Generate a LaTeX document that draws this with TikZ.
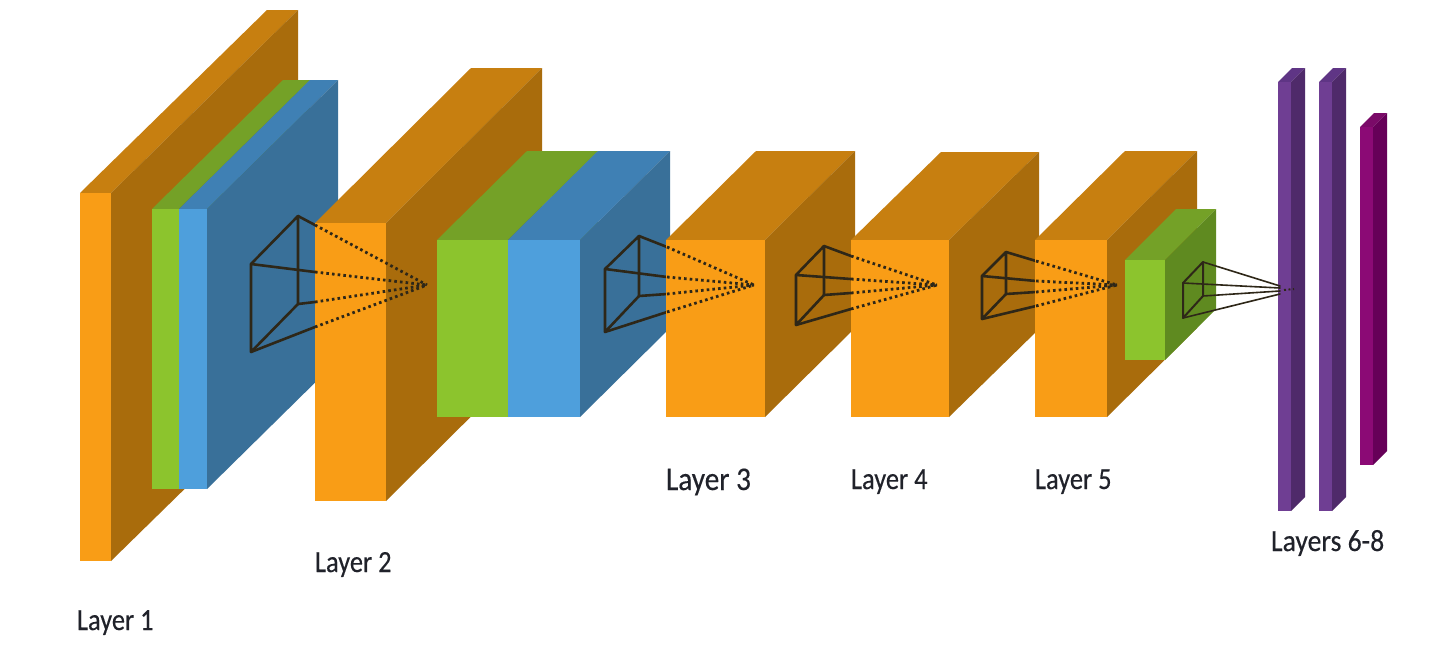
\documentclass[tikz,border=0pt]{standalone}
\usepackage{fontspec}
\setmainfont{Carlito}
\newfontfamily\labelfont[FakeBold=0.35]{Carlito}
\definecolor{orF}{HTML}{F99D16}\definecolor{orT}{HTML}{C77F10}\definecolor{orS}{HTML}{A96C0C}
\definecolor{grF}{HTML}{8CC42D}\definecolor{grT}{HTML}{74A127}\definecolor{grS}{HTML}{5F8A20}
\definecolor{blF}{HTML}{4E9FDC}\definecolor{blT}{HTML}{3F80B4}\definecolor{blS}{HTML}{397099}
\definecolor{puF}{HTML}{6F3E93}\definecolor{puT}{HTML}{5F3585}\definecolor{puS}{HTML}{4F2A6A}
\definecolor{maF}{HTML}{8B0A75}\definecolor{maT}{HTML}{7A0A68}\definecolor{maS}{HTML}{660058}
\definecolor{frustc}{HTML}{2E2718}
\definecolor{labelc}{HTML}{20222A}
\tikzset{
  solidline/.style={draw=frustc,line width=2.6pt,line join=round,line cap=round},
  thinline/.style={draw=frustc,line width=2pt,line join=round,line cap=round},
  dotline/.style={draw=frustc,line width=2.8pt,dash pattern=on 2.6pt off 3.1pt},
  layerlabel/.style={anchor=base west,inner sep=0pt,outer sep=0pt,text=labelc,font=\labelfont\fontsize{29}{29}\selectfont},
}
% x0 x1 y0 y1 dx dy colourprefix
\newcommand{\cuboid}[7]{%
  \fill[#7T] (#1,#3) -- (#2,#3) -- ({#2+#5},{#3-#6}) -- ({#1+#5},{#3-#6}) -- cycle;
  \fill[#7S] (#2,#3) -- ({#2+#5},{#3-#6}) -- ({#2+#5},{#4-#6}) -- (#2,#4) -- cycle;
  \fill[#7F] (#1,#3) rectangle (#2,#4);
}
\newcommand{\frustbox}[8]{%
  \coordinate (fa) at #1; \coordinate (fb) at #2; \coordinate (fc) at #3; \coordinate (fd) at #4;
  \coordinate (pb) at #5; \coordinate (pa) at #6; \coordinate (pc) at #7; \coordinate (pd) at #8;
}
\newcommand{\frustlines}[1]{%
  \draw[#1] (fa) -- (fb) -- (fc) -- (fd) -- cycle;
  \draw[#1] (fb) -- (pb);
  \draw[#1] (fa) -- (pa);
  \draw[#1] (fc) -- (pc);
  \draw[#1] (fd) -- (pd);
}
\newcommand{\frustdots}[1]{%
  \coordinate (apex) at #1;
  \foreach \p in {pb,pa,pc,pd} \draw[dotline] (\p) -- (apex);
}
\begin{document}
\begin{tikzpicture}[x=1pt,y=-1pt]
\useasboundingbox (0,0) rectangle (1440,648);
\fill[white] (0,0) rectangle (1440,648);
% Layer 1
\cuboid{80}{111}{193}{561}{187}{183}{or}
\cuboid{152}{179}{209}{489}{131}{129}{gr}
\cuboid{179}{207}{209}{489}{131}{129}{bl}
\frustbox{(251,264)}{(298,216)}{(298,304)}{(251,352)}{(315,225)}{(315,272)}{(315,302)}{(315,327)}
\frustlines{solidline}
% Layer 2
\cuboid{315}{386}{223}{501}{156}{155}{or}
\frustdots{(427,285)}
\cuboid{437}{508}{240}{417}{90}{89}{gr}
\cuboid{508}{580}{240}{417}{90}{89}{bl}
\frustbox{(605,269)}{(639,236)}{(639,296)}{(605,332)}{(667,247)}{(667,277)}{(667,294)}{(667,312)}
\frustlines{solidline}
% Layer 3
\cuboid{666}{765}{240}{417}{90}{89}{or}
\frustdots{(754,285)}
\frustbox{(796,275)}{(824,246)}{(824,295)}{(796,325)}{(851,256)}{(851,279)}{(851,293)}{(851,309)}
\frustlines{solidline}
% Layer 4
\cuboid{851}{949}{240}{417}{90}{88}{or}
\frustdots{(937,285)}
\frustbox{(982,276)}{(1006,252)}{(1006,294)}{(982,319)}{(1036,261)}{(1036,281)}{(1036,292)}{(1036,306)}
\frustlines{solidline}
% Layer 5
\cuboid{1035}{1107}{240}{417}{90}{89}{or}
\frustdots{(1117,285)}
\cuboid{1125}{1165}{260}{360}{51}{51}{gr}
% Layers 6-8
\cuboid{1278}{1291}{82}{511}{14}{14}{pu}
\cuboid{1319}{1332}{82}{511}{14}{14}{pu}
\cuboid{1360}{1373}{127}{465}{14}{14}{ma}
% Last frustum, solid up to the purple layer
\frustbox{(1183,283)}{(1203,262)}{(1203,296)}{(1183,318)}{(1280,286)}{(1280,288)}{(1280,291)}{(1280,294)}
\draw[thinline] (fa) -- (fb) -- (fc) -- (fd) -- cycle;
\foreach \p/\q in {fb/pb,fa/pa,fc/pc,fd/pd} \draw[thinline,line width=1.6pt] (\p) -- (\q);
\coordinate (tipa) at (1284,290);
\coordinate (tipb) at (1294,289);
\draw[dotline,line width=2pt,dash pattern=on 2pt off 2.5pt] (tipa) -- (tipb);
% Labels
\node[layerlabel] (l1) at (77,630) {\scalebox{.91}[1.06]{Layer 1}};
\node[layerlabel] (l2) at (315,572) {\scalebox{.91}[1.06]{Layer 2}};
\node[layerlabel] (l3) at (666,490) {\scalebox{1.01}[1.14]{Layer 3}};
\node[layerlabel] (l4) at (851,489) {\scalebox{.91}[1.06]{Layer 4}};
\node[layerlabel] (l5) at (1035,489) {\scalebox{.91}[1.06]{Layer 5}};
\node[layerlabel] (l6) at (1271,551) {\scalebox{.955}[1.06]{Layers 6-8}};
\end{tikzpicture}
\end{document}
